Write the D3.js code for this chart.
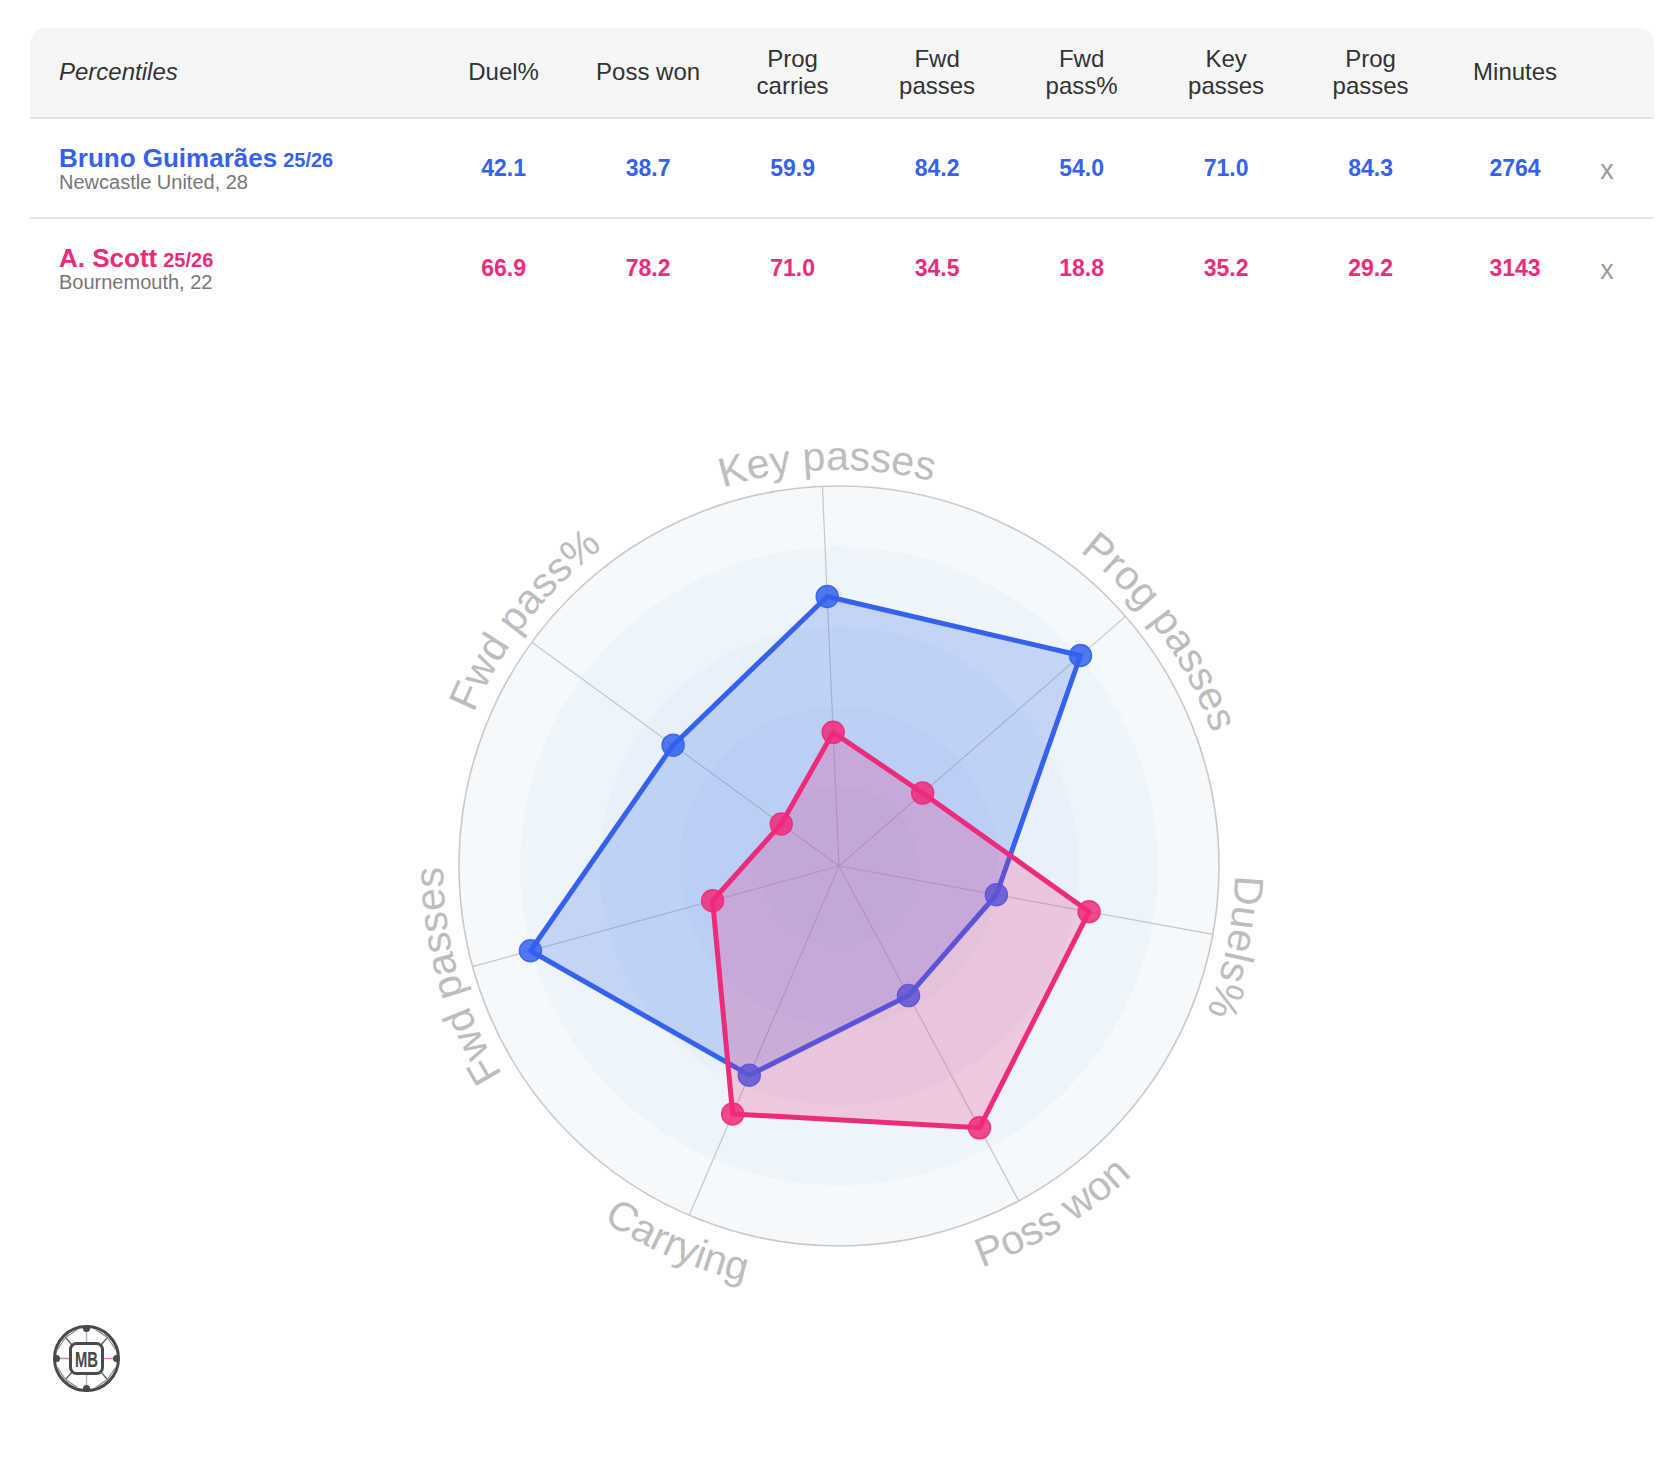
<!DOCTYPE html>
<html>
<head>
<meta charset="utf-8">
<script src="https://cdn.jsdelivr.net/npm/d3@7"></script>
<style>
  html, body { margin: 0; padding: 0; background: #ffffff; }
  svg { display: block; font-family: "Liberation Sans", Arial, Helvetica, sans-serif; }
</style>
</head>
<body>
<svg id="chart" width="1680" height="1470"></svg>
<script>
// ---------------- DATA ----------------
const headerLines = [["Duel%"], ["Poss won"], ["Prog", "carries"], ["Fwd", "passes"], ["Fwd", "pass%"], ["Key", "passes"], ["Prog", "passes"], ["Minutes"]];
const players = ["Bruno Guimarães", "A. Scott"];
const seasons = ["25/26", "25/26"];
const clubs = ["Newcastle United, 28", "Bournemouth, 22"];
const brunoValues = [42.1, 38.7, 59.9, 84.2, 54.0, 71.0, 84.3, 2764];
const scottValues = [66.9, 78.2, 71.0, 34.5, 18.8, 35.2, 29.2, 3143];
const radarAxes = ["Key passes", "Prog passes", "Duels%", "Poss won", "Carrying", "Fwd passes", "Fwd pass%"];
const radarColumn = [5, 6, 0, 1, 2, 3, 4]; // index into the table columns
const playerColors = ["#3461ee", "#ee2a7b"];

// ---------------- SETUP ----------------
const svg = d3.select("#chart");

// ---------------- TABLE ----------------
const tableLeft = 30, tableRight = 1654, headTop = 28, headBottom = 118, rowH = 100;
const rr = 18;
svg.append("path")
  .attr("d", `M${tableLeft},${headBottom} V${headTop + rr} Q${tableLeft},${headTop} ${tableLeft + rr},${headTop} H${tableRight - rr} Q${tableRight},${headTop} ${tableRight},${headTop + rr} V${headBottom} Z`)
  .attr("fill", "#f6f6f6");
svg.append("line").attr("x1", tableLeft).attr("x2", tableRight).attr("y1", headBottom).attr("y2", headBottom)
  .attr("stroke", "#e4e4e4").attr("stroke-width", 2);
svg.append("line").attr("x1", tableLeft).attr("x2", tableRight).attr("y1", headBottom + rowH).attr("y2", headBottom + rowH)
  .attr("stroke", "#e4e4e4").attr("stroke-width", 2);

const colX = d3.scaleLinear().domain([0, 1]).range([503.6, 648.1]);

svg.append("text").attr("x", 59).attr("y", 80).attr("font-size", 24).attr("font-style", "italic")
  .attr("fill", "#333").text("Percentiles");

headerLines.forEach((lines, i) => {
  const t = svg.append("text").attr("text-anchor", "middle").attr("font-size", 24).attr("fill", "#333");
  if (lines.length === 1) {
    t.append("tspan").attr("x", colX(i)).attr("y", 80).text(lines[0]);
  } else {
    t.append("tspan").attr("x", colX(i)).attr("y", 66.5).text(lines[0]);
    t.append("tspan").attr("x", colX(i)).attr("y", 94).text(lines[1]);
  }
});

const fmt1 = d3.format(".1f");
[brunoValues, scottValues].forEach((vals, p) => {
  const y0 = headBottom + p * rowH;
  const name = svg.append("text").attr("x", 59).attr("y", y0 + 49).attr("fill", playerColors[p])
    .attr("font-weight", "bold").attr("font-size", 26);
  name.append("tspan").text(players[p]);
  name.append("tspan").attr("dx", 6).attr("font-size", 20).text(seasons[p]);
  svg.append("text").attr("x", 59).attr("y", y0 + 71).attr("fill", "#777").attr("font-size", 20).text(clubs[p]);
  vals.forEach((v, i) => {
    svg.append("text").attr("x", colX(i)).attr("y", y0 + 58).attr("text-anchor", "middle")
      .attr("font-weight", "bold").attr("font-size", 23).attr("fill", playerColors[p])
      .text(i === vals.length - 1 ? d3.format("d")(v) : fmt1(v));
  });
  svg.append("text").attr("x", 1607).attr("y", y0 + 61).attr("text-anchor", "middle")
    .attr("font-size", 27).attr("fill", "#999").text("x");
});

// ---------------- RADAR ----------------
const cx = 839, cy = 866, R = 380;
const n = radarAxes.length;
const offset = -2.5 * Math.PI / 180;
const angle = d3.scaleLinear().domain([0, n]).range([offset, offset + 2 * Math.PI]);
const rScale = d3.scaleLinear().domain([0, 100]).range([0, R]);

const g = svg.append("g").attr("transform", `translate(${cx},${cy})`);

// background bands
const bandFracs = [1.0, 0.84, 0.63, 0.42, 0.21];
const bandColors = ["#f5f9fc", "#eef5fa", "#e8f1f9", "#e2eef8", "#dde9f7"];
bandFracs.forEach((f, i) => {
  g.append("circle").attr("r", R * f).attr("fill", bandColors[i]);
});
g.append("circle").attr("r", R).attr("fill", "none").attr("stroke", "#c9c9c9").attr("stroke-width", 1.6);

// axis lines
radarAxes.forEach((a, i) => {
  const th = angle(i);
  g.append("line").attr("x1", 0).attr("y1", 0)
    .attr("x2", R * Math.sin(th)).attr("y2", -R * Math.cos(th))
    .attr("stroke", "#c6c6c6").attr("stroke-width", 1.2);
});

// labels along arcs (small angular nudges in degrees to match label placement)
const labelNudge = [0.8, 5, 1.2, -3.3, 0, -0.6, 2];
const defs = svg.append("defs");
function pt(r, a) { return [r * Math.sin(a), -r * Math.cos(a)]; }
radarAxes.forEach((label, i) => {
  const th = angle(i) + labelNudge[i] * Math.PI / 180;
  let deg = ((th * 180 / Math.PI) % 360 + 360) % 360;
  const flip = deg > 120 && deg < 240;
  const d = 1.0;
  let path;
  if (!flip) {
    const r = R + 16;
    const p0 = pt(r, th - d), p1 = pt(r, th + d);
    path = `M${p0[0]},${p0[1]} A${r},${r} 0 0 1 ${p1[0]},${p1[1]}`;
  } else {
    const r = R + 46;
    const p0 = pt(r, th + d), p1 = pt(r, th - d);
    path = `M${p0[0]},${p0[1]} A${r},${r} 0 0 0 ${p1[0]},${p1[1]}`;
  }
  defs.append("path").attr("id", "lbl" + i).attr("d", path).attr("transform", `translate(${cx},${cy})`);
  svg.append("text").attr("font-size", 41).attr("fill", "#bdbdbd")
    .append("textPath").attr("href", "#lbl" + i).attr("startOffset", "50%").attr("text-anchor", "middle")
    .text(label);
});

// series
const line = d3.lineRadial().angle((d, i) => angle(i)).radius(d => rScale(d)).curve(d3.curveLinearClosed);
[brunoValues, scottValues].forEach((vals, p) => {
  const data = radarColumn.map(c => vals[c]);
  const col = playerColors[p];
  g.append("path").attr("d", line(data)).attr("fill", col).attr("fill-opacity", 0.22)
    .attr("stroke", col).attr("stroke-width", 5).attr("stroke-linejoin", "round");
  g.selectAll(null).data(data).enter().append("circle")
    .attr("cx", (d, i) => rScale(d) * Math.sin(angle(i)))
    .attr("cy", (d, i) => -rScale(d) * Math.cos(angle(i)))
    .attr("r", 11)
    .attr("fill", col).attr("fill-opacity", 0.85)
    .attr("stroke", col).attr("stroke-width", 1.5).attr("stroke-opacity", 0.9);
});

// ---------------- LOGO ----------------
const lg = svg.append("g").attr("transform", "translate(86.5,1358.5)");
const dark = "#4a4a4a";
lg.append("circle").attr("r", 32).attr("fill", "#fff").attr("stroke", dark).attr("stroke-width", 3);
lg.append("line").attr("x1", 0).attr("y1", -31).attr("x2", 0).attr("y2", -15).attr("stroke", "#a9b2e6").attr("stroke-width", 1.5);
lg.append("line").attr("x1", 0).attr("y1", 15).attr("x2", 0).attr("y2", 31).attr("stroke", "#a9b2e6").attr("stroke-width", 1.5);
lg.append("line").attr("x1", -31).attr("y1", 0).attr("x2", -16).attr("y2", 0).attr("stroke", "#e07db0").attr("stroke-width", 1.5);
lg.append("line").attr("x1", 16).attr("y1", 0).attr("x2", 31).attr("y2", 0).attr("stroke", "#e07db0").attr("stroke-width", 1.5);
[[-1, -1], [1, -1], [-1, 1], [1, 1]].forEach(([sx, sy]) => {
  lg.append("line").attr("x1", sx * 14).attr("y1", sy * 13).attr("x2", sx * 21).attr("y2", sy * 21)
    .attr("stroke", "#666").attr("stroke-width", 1.5);
  lg.append("line").attr("x1", sx * 21).attr("y1", sy * 21).attr("x2", sx * 29).attr("y2", sy * 9)
    .attr("stroke", "#888").attr("stroke-width", 1.2);
  lg.append("line").attr("x1", sx * 21).attr("y1", sy * 21).attr("x2", sx * 9).attr("y2", sy * 29)
    .attr("stroke", "#888").attr("stroke-width", 1.2);
});
[[0, -30], [0, 30], [-30, 0], [30, 0]].forEach(([x, y]) => {
  lg.append("circle").attr("cx", x).attr("cy", y).attr("r", 3.5).attr("fill", dark);
});
lg.append("rect").attr("x", -16).attr("y", -15).attr("width", 32).attr("height", 30).attr("rx", 6)
  .attr("fill", "#fff").attr("stroke", dark).attr("stroke-width", 3);
lg.append("text").attr("text-anchor", "middle").attr("y", 8).attr("font-size", 22).attr("font-weight", "bold")
  .attr("textLength", 23).attr("lengthAdjust", "spacingAndGlyphs")
  .attr("fill", dark).text("MB");
</script>
</body>
</html>
